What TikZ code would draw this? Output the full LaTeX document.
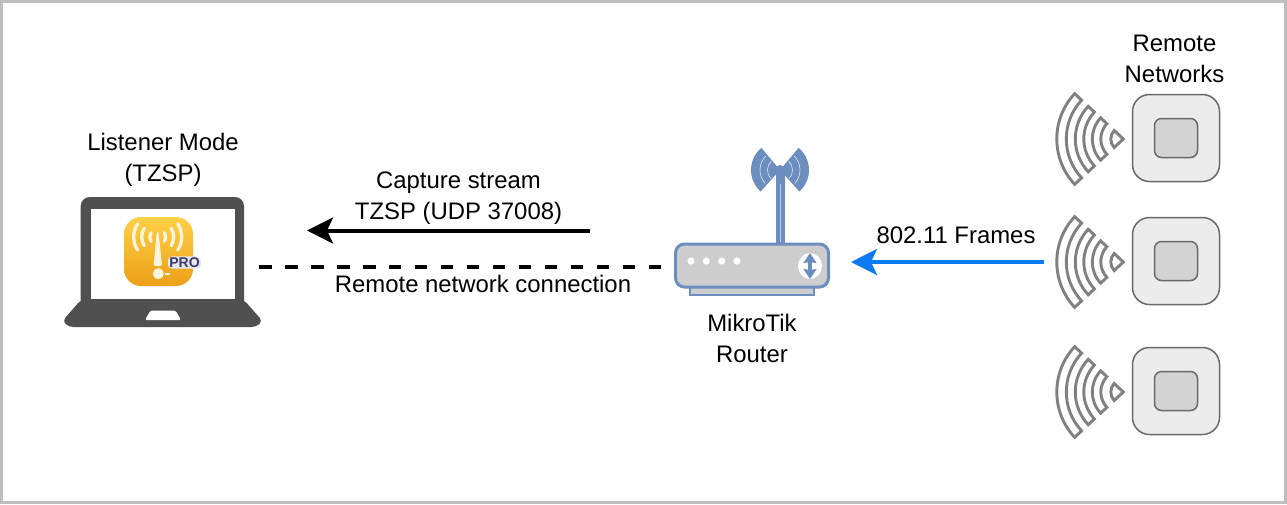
\documentclass[tikz,border=0pt]{standalone}
\usepackage{fontspec}
\setmainfont{Liberation Sans}
\usetikzlibrary{arrows.meta}

\definecolor{framegray}{RGB}{190,190,190}
\definecolor{laptopgray}{RGB}{80,80,80}
\definecolor{routerblue}{RGB}{108,142,191}
\definecolor{routerfill}{RGB}{205,205,205}
\definecolor{wavegray}{RGB}{128,128,128}
\definecolor{apedge}{RGB}{105,105,105}
\definecolor{apouter}{RGB}{236,236,236}
\definecolor{apinner}{RGB}{211,211,211}
\definecolor{framesblue}{RGB}{12,122,240}
\definecolor{iconlight}{RGB}{255,208,70}
\definecolor{icondark}{RGB}{236,160,24}
\definecolor{iconwhite}{RGB}{250,244,225}
\definecolor{pronavy}{RGB}{58,58,110}

\tikzset{
    label/.style={font=\fontsize{6.8}{8.8}\selectfont,align=center,inner sep=0pt},
    routerbody/.style={draw=routerblue,fill=routerfill,line width=0.03cm,rounded corners=0.09cm,
        minimum width=1.53cm,minimum height=0.43cm,inner sep=0pt},
    apbox/.style={draw=apedge,fill=apouter,line width=0.015cm,rounded corners=0.17cm,
        minimum width=0.87cm,minimum height=0.87cm,inner sep=0pt},
    apcore/.style={draw=apedge,fill=apinner,line width=0.015cm,rounded corners=0.07cm,
        minimum width=0.43cm,minimum height=0.39cm,inner sep=0pt},
    waveband/.style={draw=wavegray,fill=white,line width=0.029cm,line join=miter},
    iconarc/.style={draw=iconwhite,line width=0.033cm,line cap=round},
}

\begin{document}
\begin{tikzpicture}[x=1cm,y=1cm]
        \useasboundingbox (0,0) rectangle (12.87,5.04);
        \draw[framegray,line width=0.03cm] (0.015,0.015) rectangle (12.855,5.025);

        % laptop
        \fill[laptopgray,rounded corners=0.09cm] (0.807,1.90) rectangle (2.44,3.07);
        \fill[laptopgray,rounded corners=0.04cm]
            (0.807,2.04) -- (2.44,2.04) -- (2.625,1.83) -- (2.56,1.77)
            -- (0.69,1.77) -- (0.625,1.83) -- cycle;
        \fill[white] (0.91,2.05) rectangle (2.35,2.95);
        \fill[white,rounded corners=0.015cm]
            (1.45,1.84) -- (1.81,1.84) -- (1.755,1.935) -- (1.505,1.935) -- cycle;

        % app icon
        \shade[top color=iconlight,bottom color=icondark,rounded corners=0.17cm]
            (1.24,2.18) rectangle (1.93,2.87);
        \begin{scope}[shift={(1.577,2.67)}]
            \foreach \rad in {0.08,0.16,0.24} {
                \draw[iconarc] (147:\rad) arc[start angle=147,end angle=213,radius=\rad];
                \draw[iconarc] (33:\rad) arc[start angle=33,end angle=-33,radius=\rad];
            }
        \end{scope}
        \fill[iconwhite,rounded corners=0.02cm]
            (1.568,2.72) -- (1.586,2.72) -- (1.62,2.38) -- (1.535,2.38) -- cycle;
        \fill[iconwhite] (1.583,2.303) circle (0.055);
        \draw[iconwhite,line width=0.02cm] (1.65,2.30) -- (1.70,2.30);
        \node[fill=white!88!pronavy,rounded corners=0.04cm,inner sep=0.012cm,text=pronavy,
            font=\fontsize{4}{4}\bfseries\selectfont] (prologo) at (1.845,2.415) {PRO};

        \node[label] (listenerlabel) at (1.63,3.44) {Listener Mode\\(TZSP)};

        % router
        \fill[routerfill,draw=routerblue,line width=0.02cm] (6.90,2.09) rectangle (8.14,2.20);
        \draw[routerblue,line width=0.09cm] (7.805,2.60) -- (7.805,3.34);
        \draw[white!55!routerblue,line width=0.006cm] (7.805,2.62) -- (7.805,3.20);
        \begin{scope}[shift={(7.80,3.34)}]
            \fill[routerblue] (0,0) -- (130:0.29) arc[start angle=130,end angle=228,radius=0.29] -- cycle;
            \fill[routerblue] (0,0) -- (50:0.29) arc[start angle=50,end angle=-48,radius=0.29] -- cycle;
            \foreach \rad in {0.125,0.20} {
                \draw[white!80!routerblue,line width=0.006cm] (135:\rad) arc[start angle=135,end angle=222,radius=\rad];
                \draw[white!80!routerblue,line width=0.006cm] (45:\rad) arc[start angle=45,end angle=-42,radius=\rad];
            }
            \fill[routerblue] (0,0) circle (0.05);
        \end{scope}
        \node[routerbody] (router) at (7.52,2.385) {};
        \foreach \x in {6.91,7.063,7.217,7.37} {
            \fill[white] (\x,2.43) circle (0.036);
        }
        \fill[white] (8.10,2.38) ellipse (0.12 and 0.13);
        \coordinate (arrowtop) at (8.10,2.51);
        \coordinate (arrowbot) at (8.10,2.25);
        \draw[{Stealth[length=0.10cm,width=0.13cm,inset=0.01cm]}-{Stealth[length=0.10cm,width=0.13cm,inset=0.01cm]},
            routerblue,line width=0.038cm] (arrowbot) -- (arrowtop);

        \node[label] (routerlabel) at (7.52,1.655) {MikroTik\\Router};

        % remote networks
        \foreach \i/\y in {1/3.66,2/2.43,3/1.13} {
            \node[apbox] (ap\i) at (11.76,\y) {};
            \node[apcore] (core\i) at (ap\i) {};
            \begin{scope}[shift={(11.233,\y-0.01)}]
                \foreach \ra/\rb in {0.225/0.31,0.395/0.48,0.57/0.665} {
                    \draw[waveband] (137:\ra) arc[start angle=137,end angle=223,radius=\ra]
                        -- (223:\rb) arc[start angle=223,end angle=137,radius=\rb] -- cycle;
                }
                \draw[waveband] (0,0) -- (137:0.125) arc[start angle=137,end angle=223,radius=0.125] -- cycle;
            \end{scope}
        }
        \node[label] (remotelabel) at (11.745,4.45) {Remote\\Networks};

        % connectors
        \coordinate (capturestart) at (5.90,2.735);
        \coordinate (captureend) at (3.07,2.735);
        \draw[-{Stealth[length=0.26cm,width=0.26cm,inset=0.06cm]},line width=0.04cm]
            (capturestart) -- (captureend);
        \node[label] (capturelabel) at (4.585,3.06) {Capture stream\\TZSP (UDP 37008)};

        \coordinate (laptopedge) at (2.59,2.37);
        \draw[line width=0.04cm,dash pattern=on 0.125cm off 0.135cm,shorten >=0.09cm]
            (laptopedge) -- (router.west |- laptopedge);
        \node[label] (linklabel) at (4.83,2.20) {Remote network connection};

        \coordinate (framestart) at (10.44,2.42);
        \draw[-{Stealth[length=0.26cm,width=0.26cm,inset=0.06cm]},framesblue,line width=0.035cm,shorten >=0.21cm]
            (framestart) -- (router.east |- framestart);
        \node[label] (frameslabel) at (9.56,2.69) {802.11 Frames};
    \end{tikzpicture}
\end{document}
